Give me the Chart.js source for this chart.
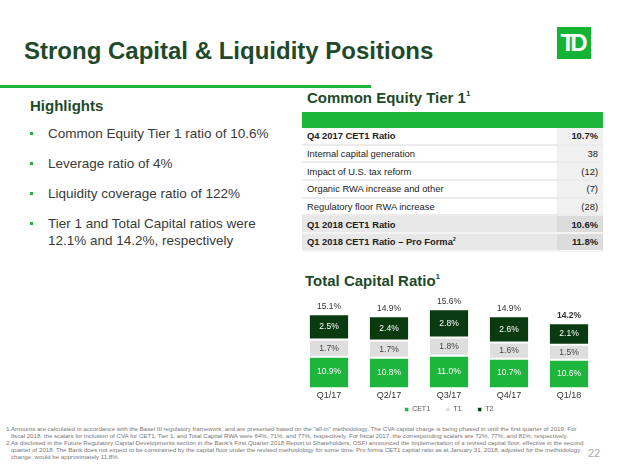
<!DOCTYPE html>
<html>
<head>
<meta charset="utf-8">
<script src="https://cdn.jsdelivr.net/npm/chart.js@4.4.1/dist/chart.umd.min.js"></script>
<style>
  html, body { margin: 0; padding: 0; }
  body {
    width: 624px; height: 467px; position: relative; overflow: hidden;
    background: #fff; font-family: "Liberation Sans", Arial, sans-serif; color: #333;
  }
  .abs { position: absolute; white-space: nowrap; }
  #title { left: 24px; top: 37px; font-size: 24px; font-weight: bold; color: #1e4a2a; line-height: 28px; }
  #rule { left: 0; top: 85px; width: 371px; height: 3px; background: #1db53c; }
  #logo {
    left: 557px; top: 27px; width: 34px; height: 32px; background: #14b334;
    color: #fff; font-family: "Liberation Sans", Arial, sans-serif; font-weight: bold; font-size: 24px;
    line-height: 32px; text-align: center; letter-spacing: -5px; text-indent: -5px;
  }
  .head { font-size: 15px; font-weight: bold; color: #1e4a2a; line-height: 18px; }
  .head sup { font-size: 8px; vertical-align: 7px; line-height: 0; }
  #bullets { left: 30px; top: 125px; margin: 0; padding: 0; list-style: none; font-size: 13.5px; color: #3a3a3a; }
  #bullets li { position: relative; padding-left: 18px; line-height: 17px; margin-bottom: 13px; }
  #bullets li::before {
    content: ""; position: absolute; left: 0; top: 7px; width: 3px; height: 3px; background: #1db53c;
  }
  #cet1 { left: 302px; top: 112px; width: 301px; border-collapse: collapse; font-size: 9.4px; color: #222; }
  #cet1 th { background: #1db53c; height: 16px; padding: 0; }
  #cet1 td { height: 15.7px; padding: 0 5px; border-bottom: 2px solid #ececec; line-height: 15px; }
  #cet1 td.v { text-align: right; background: #f0f0f0; width: 36px; }
  #cet1 tr.b td { font-weight: bold; }
  #cet1 tr.s td { background: #e8e8e8; border-bottom-color: #f4f4f4; }
  #cet1 tr.s td.v { background: #dcdcdc; }
  #cet1 sup { font-size: 5px; vertical-align: 4px; line-height: 0; }
  #chartBox { left: 299px; top: 288px; width: 300px; height: 135px; }
  .fn { font-size: 6.15px; color: #777; line-height: 7px; }
  #page { left: 588px; top: 447px; font-size: 11px; color: #aaa; }
</style>
</head>
<body>
  <div id="title" class="abs">Strong Capital &amp; Liquidity Positions</div>
  <div id="rule" class="abs"></div>
  <div id="logo" class="abs">TD</div>

  <div class="abs head" style="left:30px; top:97px;">Highlights</div>
  <ul id="bullets" class="abs"></ul>

  <div class="abs head" style="left:307px; top:89px;">Common Equity Tier 1<sup>1</sup></div>
  <table id="cet1" class="abs"></table>

  <div class="abs head" style="left:305px; top:272px;">Total Capital Ratio<sup>1</sup></div>
  <div id="chartBox" class="abs"><canvas id="capChart"></canvas></div>

  <div class="abs fn" style="left:6px; top:425px;">1.</div>
  <div class="abs fn" style="left:11px; top:425px;">Amounts are calculated in accordance with the Basel III regulatory framework, and are presented based on the "all-in" methodology. The CVA capital charge is being phased in until the first quarter of 2019. For</div>
  <div class="abs fn" style="left:11px; top:432px;">fiscal 2018, the scalars for inclusion of CVA for CET1, Tier 1, and Total Capital RWA were 64%, 71%, and 77%, respectively. For fiscal 2017, the corresponding scalars are 72%, 77%, and 81%, respectively.</div>
  <div class="abs fn" style="left:6px; top:439px;">2.</div>
  <div class="abs fn" style="left:11px; top:439px;">As disclosed in the Future Regulatory Capital Developments section in the Bank's First Quarter 2018 Report to Shareholders, OSFI announced the implementation of a revised capital floor, effective in the second</div>
  <div class="abs fn" style="left:11px; top:446px;">quarter of 2018. The Bank does not expect to be constrained by the capital floor under the revised methodology for some time. Pro forma CET1 capital ratio as at January 31, 2018, adjusted for the methodology</div>
  <div class="abs fn" style="left:11px; top:453px;">change, would be approximately 11.8%.</div>
  <div id="page" class="abs">22</div>

<script>
// highlights
const highlights = [
    'Common Equity Tier 1 ratio of 10.6%',
    'Leverage ratio of 4%',
    'Liquidity coverage ratio of 122%',
    'Tier 1 and Total Capital ratios were<br>12.1% and 14.2%, respectively'
];

// CET1 walk table
const walkLabels = [
    'Q4 2017 CET1 Ratio',
    'Internal capital generation',
    'Impact of U.S. tax reform',
    'Organic RWA increase and other',
    'Regulatory floor RWA increase',
    'Q1 2018 CET1 Ratio',
    'Q1 2018 CET1 Ratio \u2013 Pro Forma<sup>2</sup>'
];
const walkValues = ['10.7%', '38', '(12)', '(7)', '(28)', '10.6%', '11.8%'];
const walkStyle = ['b', '', '', '', '', 'b s', 'b s'];

// total capital ratio chart
const quarters = ['Q1/17', 'Q2/17', 'Q3/17', 'Q4/17', 'Q1/18'];
const cet1 = [10.9, 10.8, 11.0, 10.7, 10.6];
const tier1 = [1.7, 1.7, 1.8, 1.6, 1.5];
const tier2 = [2.5, 2.4, 2.8, 2.6, 2.1];
const totals = [15.1, 14.9, 15.6, 14.9, 14.2];

document.getElementById('bullets').innerHTML =
    highlights.map(h => `<li>${h}</li>`).join('');

document.getElementById('cet1').innerHTML =
    '<tr><th colspan="2"></th></tr>' +
    walkLabels.map((l, i) =>
        `<tr class="${walkStyle[i]}"><td>${l}</td><td class="v">${walkValues[i]}</td></tr>`
    ).join('');

const FONT = '"Liberation Sans", Arial, sans-serif';

const barLabels = {
    id: 'barLabels',
    afterDatasetsDraw(chart) {
        const ctx = chart.ctx;
        const bottom = chart.chartArea.bottom;
        ctx.save();
        ctx.textAlign = 'center';
        ctx.textBaseline = 'middle';
        ctx.font = '8.5px ' + FONT;
        chart.data.datasets.forEach((ds, di) => {
            chart.getDatasetMeta(di).data.forEach((bar, i) => {
                const base = Math.min(bar.base, bottom);
                ctx.fillStyle = ds.labelColor;
                ctx.fillText(ds.data[i].toFixed(1) + '%', bar.x, (bar.y + base) / 2);
            });
        });
        // totals above each stack
        ctx.fillStyle = '#333';
        chart.getDatasetMeta(2).data.forEach((bar, i) => {
            ctx.font = (i === totals.length - 1 ? 'bold ' : '') + '8.5px ' + FONT;
            ctx.fillText(totals[i].toFixed(1) + '%', bar.x, bar.y - 7.5);
        });
        ctx.restore();
    }
};

new Chart(document.getElementById('capChart'), {
    type: 'bar',
    data: {
        labels: quarters,
        datasets: [
            { label: 'CET1', data: cet1, backgroundColor: '#1db53c', labelColor: '#fff' },
            { label: 'T1', data: tier1, backgroundColor: '#dedede', labelColor: '#444' },
            { label: 'T2', data: tier2, backgroundColor: '#0a3b10', labelColor: '#fff' }
        ]
    },
    options: {
        responsive: true,
        maintainAspectRatio: false,
        animation: false,
        layout: { padding: { top: 8, bottom: 0 } },
        datasets: {
            bar: {
                categoryPercentage: 1,
                barPercentage: 0.67,
                borderWidth: 1,
                borderColor: 'rgba(255,255,255,0.55)',
                borderSkipped: false
            }
        },
        scales: {
            x: {
                stacked: true,
                grid: { display: false, drawTicks: false },
                border: { display: false },
                ticks: { color: '#333', padding: 3, font: { size: 9, family: FONT } }
            },
            y: {
                stacked: true,
                display: false,
                min: 7.9,
                max: 16.9
            }
        },
        plugins: {
            legend: {
                position: 'bottom',
                labels: {
                    usePointStyle: true,
                    pointStyle: 'rect',
                    boxWidth: 4,
                    boxHeight: 4,
                    padding: 2,
                    color: '#555',
                    font: { size: 7, family: FONT },
                    // wider gaps between the legend entries
                    generateLabels(chart) {
                        const items = Chart.defaults.plugins.legend.labels.generateLabels(chart);
                        items.forEach((it, i) => {
                            if (i < items.length - 1) it.text += '\u2003\u2003';
                        });
                        return items;
                    }
                }
            },
            tooltip: { enabled: false }
        }
    },
    plugins: [barLabels]
});
</script>
</body>
</html>
